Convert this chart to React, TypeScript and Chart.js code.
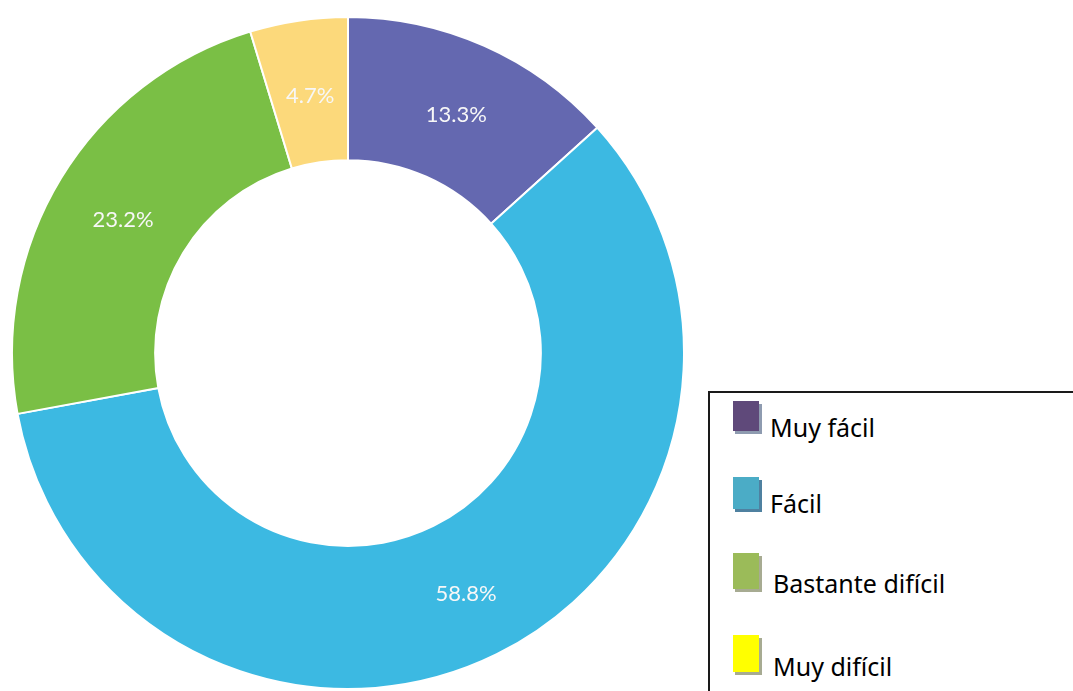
import React, { useEffect, useRef } from "react";
import { Chart, registerables } from "chart.js";

Chart.register(...registerables);

const labels = ["Muy fácil", "Fácil", "Bastante difícil", "Muy difícil"];
const values = [13.3, 58.8, 23.2, 4.7];
const sliceColors = ["#6468b0", "#3cb9e2", "#7abf45", "#fcd97b"];
const legendColors = ["#5f497a", "#4bacc6", "#9bbb59", "#ffff00"];
const legendShadows = ["#8e9bb0", "#4f81a0", "#a7ab92", "#a7ab92"];
const legendTops = [410, 486, 566, 649];
const legendTextX = [770, 770, 773, 773];
const markerBoxes = [
  { top: 401, h: 30 },
  { top: 477, h: 32 },
  { top: 553, h: 36 },
  { top: 635, h: 37 },
];

const labelPlugin = {
  id: "sliceLabels",
  afterDatasetsDraw(chart: any) {
    const ctx = chart.ctx;
    const meta = chart.getDatasetMeta(0);
    ctx.save();
    ctx.font = "22px Lato";
    ctx.fillStyle = "#f7f7f7";
    ctx.textAlign = "center";
    ctx.textBaseline = "middle";
    meta.data.forEach((arc: any, i: number) => {
      const p = arc.tooltipPosition();
      ctx.fillText(values[i].toFixed(1) + "%", p.x + 1, p.y + 4);
    });
    ctx.restore();
  },
};

export default function App() {
  const ref = useRef<HTMLCanvasElement>(null);
  useEffect(() => {
    const chart = new Chart(ref.current!, {
      type: "doughnut",
      data: {
        labels,
        datasets: [
          {
            data: values,
            backgroundColor: sliceColors,
            borderColor: "#ffffff",
            borderWidth: 2,
          },
        ],
      },
      options: {
        animation: false,
        responsive: false,
        cutout: "57.4%",
        layout: { padding: 0 },
        plugins: { legend: { display: false }, tooltip: { enabled: false } },
      },
      plugins: [labelPlugin],
    });
    return () => chart.destroy();
  }, []);

  return (
    <div
      style={{
        position: "fixed",
        left: 0,
        top: 0,
        width: 1073,
        height: 691,
        overflow: "hidden",
        background: "#fff",
      }}
    >
      <canvas
        ref={ref}
        width={674}
        height={674}
        style={{ position: "absolute", left: 11, top: 16, width: 674, height: 674 }}
      />
      <div
        style={{
          position: "absolute",
          left: 708,
          top: 391,
          width: 400,
          height: 400,
          borderLeft: "2px solid #1a1a1a",
          borderTop: "2px solid #1a1a1a",
        }}
      />
      {labels.map((l, i) => (
        <React.Fragment key={l}>
          <div
            style={{
              position: "absolute",
              left: 735,
              top: markerBoxes[i].top + 3,
              width: 27,
              height: markerBoxes[i].h,
              background: legendShadows[i],
            }}
          />
          <div
            style={{
              position: "absolute",
              left: 733,
              top: markerBoxes[i].top,
              width: 26,
              height: markerBoxes[i].h,
              background: legendColors[i],
            }}
          />
          <div
            style={{
              position: "absolute",
              left: legendTextX[i],
              top: legendTops[i],
              font: "25px 'Noto Sans'",
              color: "#000",
              whiteSpace: "nowrap",
            }}
          >
            {l}
          </div>
        </React.Fragment>
      ))}
    </div>
  );
}
